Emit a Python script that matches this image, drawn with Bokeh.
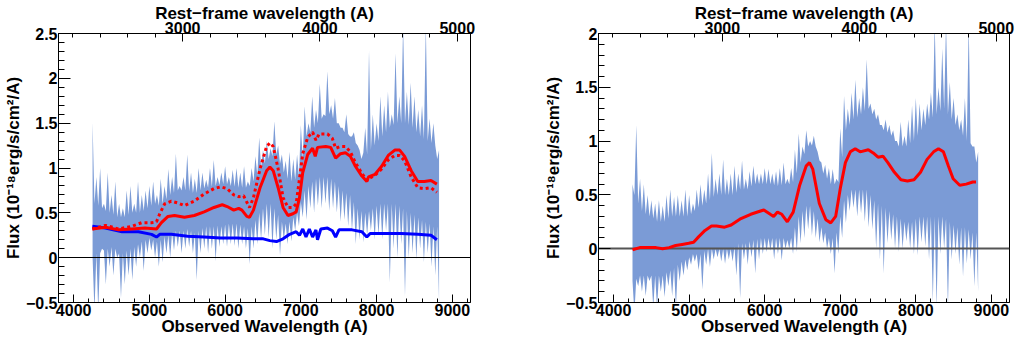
import numpy as np
from bokeh.plotting import figure
from bokeh.layouts import row
from bokeh.models import LinearAxis, Range1d, SingleIntervalTicker, CustomJSTickFormatter
from bokeh.embed import file_html
from bokeh.resources import INLINE

# ---------------- data ----------------
REDSHIFT_FACTOR = 1.813  # observed / rest-frame

# observed-wavelength grid of the noisy spectrum (Angstrom)
spec_wave = list(range(4250, 8801, 50))

# left panel: spike tops / spike bottoms of the noisy spectrum
left_hi = [1.51, 0.90, 1.00, 0.60, 0.95, 0.70, 0.85, 0.60, 0.55, 0.75,
           0.80, 0.60, 0.85, 0.70, 0.75, 0.80, 0.85, 0.70, 0.88, 0.80,
           0.99, 0.90, 1.16, 0.80, 0.90, 1.15, 0.95, 0.88, 1.00, 0.95,
           0.87, 1.00, 1.09, 0.90, 0.95, 1.02, 0.90, 0.98, 1.00, 0.95,
           1.02, 0.85, 1.00, 1.13, 1.34, 1.20, 1.30, 1.22, 1.52, 1.25,
           1.15, 1.08, 1.18, 1.10, 1.15, 1.48, 1.69, 1.50, 1.80, 1.65,
           1.94, 1.60, 2.08, 1.70, 1.78, 1.50, 1.45, 1.60, 1.35, 1.40,
           1.25, 1.10, 1.45, 2.31, 1.60, 1.50, 1.80, 1.70, 1.85, 1.60,
           2.28, 1.80, 2.60, 1.85, 1.95, 1.80, 1.65, 1.70, 2.60, 1.55,
           1.50, 1.10]
left_lo = [-0.60, -0.60, 0.10, -0.30, -0.10, -0.20, 0.00, -0.45, -0.30, -0.20,
           -0.25, -0.10, 0.00, -0.15, 0.05, 0.08, 0.00, -0.10, -0.05, 0.05,
           0.00, 0.08, 0.12, 0.05, 0.10, 0.12, 0.05, -0.25, 0.05, 0.10,
           0.05, 0.10, -0.04, 0.12, 0.15, 0.12, 0.15, 0.13, 0.10, 0.15,
           0.10, -0.07, 0.10, 0.15, 0.20, 0.25, 0.22, 0.10, 0.20, 0.02,
           0.20, 0.15, 0.18, 0.30, 0.35, 0.45, 0.42, 0.55, 0.50, 0.58,
           0.55, 0.60, 0.52, 0.55, 0.50, 0.40, 0.42, 0.35, 0.30, 0.15,
           0.20, 0.17, 0.25, 0.30, 0.20, 0.25, 0.20, 0.30, -0.28, 0.10,
           0.00, 0.15, -0.43, 0.00, 0.05, -0.02, 0.10, -0.05, 0.05, -0.10,
           -0.20, -0.50]
# left panel: dense core of the spectrum
left_core_lo = [0.00, 0.05, 0.05, 0.08, 0.10, 0.12, 0.10, 0.05, 0.05, 0.08,
                0.10, 0.12, 0.15, 0.18, 0.20, 0.22, 0.20, 0.18, 0.20, 0.24,
                0.25, 0.28, 0.30, 0.30, 0.30, 0.32, 0.30, 0.28, 0.30, 0.33,
                0.35, 0.35, 0.35, 0.36, 0.35, 0.37, 0.38, 0.38, 0.38, 0.37,
                0.35, 0.33, 0.35, 0.42, 0.50, 0.55, 0.60, 0.60, 0.55, 0.48,
                0.40, 0.38, 0.40, 0.45, 0.50, 0.62, 0.75, 0.80, 0.85, 0.88,
                0.90, 0.90, 0.90, 0.88, 0.85, 0.80, 0.75, 0.72, 0.70, 0.62,
                0.55, 0.52, 0.50, 0.52, 0.55, 0.58, 0.60, 0.60, 0.60, 0.60,
                0.60, 0.58, 0.55, 0.52, 0.50, 0.48, 0.45, 0.42, 0.40, 0.38,
                0.35, 0.35]
left_core_hi = [0.60, 0.58, 0.55, 0.52, 0.50, 0.48, 0.45, 0.45, 0.45, 0.48,
                0.50, 0.50, 0.50, 0.52, 0.55, 0.58, 0.60, 0.58, 0.60, 0.65,
                0.70, 0.72, 0.75, 0.75, 0.75, 0.74, 0.72, 0.72, 0.75, 0.77,
                0.78, 0.79, 0.80, 0.81, 0.82, 0.82, 0.80, 0.79, 0.78, 0.78,
                0.78, 0.80, 0.85, 0.92, 1.00, 1.05, 1.10, 1.13, 1.15, 1.05,
                0.95, 0.88, 0.85, 0.87, 0.90, 1.10, 1.35, 1.40, 1.45, 1.50,
                1.55, 1.58, 1.60, 1.55, 1.50, 1.45, 1.40, 1.38, 1.35, 1.28,
                1.20, 1.17, 1.15, 1.20, 1.25, 1.30, 1.35, 1.40, 1.45, 1.48,
                1.50, 1.50, 1.50, 1.48, 1.45, 1.40, 1.35, 1.32, 1.30, 1.28,
                1.25, 1.20]

# right panel: spike tops / spike bottoms of the noisy spectrum
right_hi = [0.60, 1.15, 0.65, 0.60, 0.50, 0.45, 0.42, 0.45, 0.40, 0.50,
            0.55, 0.48, 0.50, 0.45, 0.55, 0.50, 0.42, 0.55, 0.60, 0.55,
            0.70, 0.89, 0.65, 0.70, 0.83, 0.65, 0.70, 0.77, 0.70, 0.82,
            0.65, 0.72, 0.77, 0.70, 0.70, 0.75, 0.74, 0.70, 0.72, 0.75,
            0.80, 0.65, 0.75, 0.92, 1.07, 0.95, 1.10, 1.00, 1.05, 0.90,
            0.80, 0.78, 0.75, 0.74, 0.65, 1.12, 1.42, 1.30, 1.45, 1.57,
            1.40, 1.50, 1.76, 1.35, 1.30, 1.25, 1.15, 1.20, 1.15, 1.10,
            1.00, 1.18, 1.05, 1.20, 1.33, 1.40, 1.35, 1.30, 1.35, 1.45,
            2.10, 1.50, 1.86, 2.10, 1.55, 1.40, 1.25, 1.20, 1.40, 2.10,
            0.95, 0.80]
right_lo = [-0.60, -0.35, -0.40, -0.44, -0.30, -0.55, -0.55, -0.40, -0.45, -0.35,
            -0.44, -0.55, -0.30, -0.25, -0.20, -0.15, -0.12, -0.20, -0.38, -0.15,
            -0.17, -0.10, -0.08, -0.12, -0.14, -0.10, -0.12, -0.25, -0.46, -0.10,
            -0.15, -0.08, -0.23, -0.10, -0.05, -0.03, -0.02, -0.10, -0.05, -0.11,
            0.00, 0.00, -0.05, -0.03, 0.05, 0.10, 0.18, 0.12, 0.10, 0.06,
            0.05, 0.00, -0.05, -0.23, -0.05, 0.10, 0.24, 0.35, 0.38, 0.30,
            0.33, 0.25, 0.20, 0.18, 0.00, -0.10, -0.23, 0.05, 0.08, 0.00,
            -0.03, 0.00, 0.07, 0.00, -0.05, -0.06, 0.06, 0.02, -0.10, -0.50,
            -0.55, -0.05, 0.00, -0.55, -0.10, -0.05, -0.15, -0.26, -0.14, -0.10,
            -0.35, -0.40]
# right panel: dense core of the spectrum
right_core_lo = [-0.30, -0.28, -0.25, -0.25, -0.25, -0.25, -0.25, -0.25, -0.25, -0.22,
                 -0.20, -0.18, -0.15, -0.12, -0.10, -0.08, -0.05, -0.05, -0.05, -0.02,
                 0.00, 0.00, 0.00, 0.00, 0.00, 0.00, 0.00, 0.02, 0.05, 0.05,
                 0.05, 0.07, 0.08, 0.09, 0.10, 0.10, 0.10, 0.10, 0.10, 0.10,
                 0.10, 0.08, 0.10, 0.20, 0.30, 0.35, 0.40, 0.40, 0.35, 0.28,
                 0.20, 0.15, 0.10, 0.10, 0.15, 0.30, 0.45, 0.50, 0.55, 0.55,
                 0.55, 0.55, 0.55, 0.50, 0.45, 0.42, 0.40, 0.38, 0.35, 0.32,
                 0.30, 0.28, 0.25, 0.25, 0.25, 0.28, 0.30, 0.30, 0.30, 0.30,
                 0.30, 0.30, 0.30, 0.28, 0.25, 0.22, 0.20, 0.20, 0.20, 0.18,
                 0.15, 0.15]
right_core_hi = [0.50, 0.42, 0.35, 0.32, 0.30, 0.28, 0.25, 0.25, 0.25, 0.28,
                 0.30, 0.30, 0.30, 0.30, 0.30, 0.32, 0.35, 0.38, 0.40, 0.42,
                 0.45, 0.48, 0.50, 0.50, 0.50, 0.50, 0.50, 0.52, 0.55, 0.55,
                 0.55, 0.58, 0.60, 0.60, 0.60, 0.60, 0.60, 0.59, 0.58, 0.59,
                 0.60, 0.60, 0.62, 0.70, 0.80, 0.88, 0.95, 0.96, 0.95, 0.82,
                 0.70, 0.65, 0.60, 0.60, 0.62, 0.85, 1.10, 1.15, 1.20, 1.22,
                 1.25, 1.28, 1.30, 1.25, 1.20, 1.15, 1.10, 1.08, 1.05, 1.00,
                 0.95, 0.95, 0.95, 0.98, 1.00, 1.05, 1.10, 1.15, 1.20, 1.22,
                 1.25, 1.28, 1.30, 1.25, 1.20, 1.15, 1.10, 1.05, 1.00, 0.98,
                 0.95, 0.90]

# left panel: best-fit model (solid red)
left_model_wave = [4247, 4421, 4595, 4768, 4942, 5094, 5159, 5246, 5332, 5463,
                   5593, 5723, 5853, 5962, 6027, 6114, 6179, 6222, 6287, 6322,
                   6374, 6461, 6548, 6591, 6635, 6700, 6765, 6830, 6895, 6938,
                   6982, 7025, 7090, 7155, 7190, 7220, 7329, 7394, 7459, 7524,
                   7589, 7654, 7720, 7806, 7871, 7893, 7980, 8067, 8154, 8240,
                   8305, 8370, 8457, 8544, 8631, 8718, 8796]
left_model_flux = [0.32, 0.34, 0.31, 0.32, 0.33, 0.32, 0.39, 0.46, 0.47, 0.45,
                   0.47, 0.51, 0.56, 0.59, 0.57, 0.53, 0.55, 0.53, 0.46, 0.45,
                   0.53, 0.78, 0.97, 1.01, 0.97, 0.78, 0.56, 0.47, 0.49, 0.51,
                   0.67, 0.95, 1.15, 1.22, 1.13, 1.23, 1.24, 1.23, 1.11, 1.16,
                   1.17, 1.13, 1.02, 0.91, 0.85, 0.90, 0.93, 1.02, 1.14, 1.20,
                   1.20, 1.13, 0.97, 0.85, 0.85, 0.86, 0.82]

# left panel: alternative model (dotted red)
left_alt_wave = [4247, 4421, 4595, 4768, 4898, 5029, 5094, 5137, 5202, 5289,
                 5376, 5463, 5593, 5723, 5853, 5940, 6027, 6114, 6179, 6244,
                 6322, 6374, 6461, 6548, 6591, 6635, 6700, 6765, 6830, 6895,
                 6938, 6982, 7025, 7090, 7155, 7199, 7242, 7351, 7416, 7459,
                 7524, 7589, 7654, 7720, 7806, 7871, 7893, 7980, 8067, 8154,
                 8240, 8305, 8370, 8457, 8544, 8631, 8718, 8796]
left_alt_flux = [0.32, 0.36, 0.32, 0.35, 0.39, 0.39, 0.40, 0.49, 0.60, 0.63,
                 0.61, 0.58, 0.63, 0.71, 0.77, 0.79, 0.77, 0.70, 0.68, 0.69,
                 0.56, 0.67, 0.99, 1.24, 1.28, 1.24, 0.99, 0.67, 0.56, 0.56,
                 0.60, 0.88, 1.16, 1.34, 1.40, 1.31, 1.38, 1.38, 1.33, 1.22,
                 1.24, 1.24, 1.18, 1.06, 0.94, 0.86, 0.88, 0.92, 0.99, 1.09,
                 1.14, 1.14, 1.08, 0.90, 0.78, 0.77, 0.78, 0.73]

# left panel: error spectrum (blue)
left_err_wave = [4247, 4421, 4638, 4855, 5029, 5094, 5137, 5289, 5506, 5723,
                 5940, 6157, 6374, 6504, 6591, 6678, 6765, 6852, 6938, 6982,
                 7025, 7068, 7112, 7155, 7199, 7220, 7264, 7351, 7416, 7459,
                 7503, 7676, 7806, 7871, 7915, 8110, 8327, 8544, 8718, 8796]
left_err_flux = [0.35, 0.33, 0.29, 0.29, 0.26, 0.23, 0.26, 0.26, 0.24, 0.23,
                 0.22, 0.22, 0.21, 0.21, 0.19, 0.18, 0.21, 0.26, 0.29, 0.25,
                 0.32, 0.23, 0.32, 0.23, 0.31, 0.20, 0.32, 0.33, 0.30, 0.23,
                 0.31, 0.31, 0.29, 0.23, 0.27, 0.27, 0.27, 0.26, 0.25, 0.20]

# right panel: model (solid red)
right_model_wave = [4251, 4346, 4432, 4562, 4648, 4735, 4821, 4908, 4994, 5059,
                    5124, 5210, 5296, 5361, 5469, 5556, 5685, 5815, 5945, 5988,
                    6074, 6118, 6169, 6226, 6299, 6377, 6463, 6550, 6593, 6636,
                    6723, 6809, 6874, 6939, 7003, 7068, 7133, 7198, 7263, 7371,
                    7436, 7500, 7565, 7630, 7717, 7803, 7889, 7976, 8062, 8149,
                    8235, 8300, 8365, 8430, 8494, 8581, 8667, 8754, 8797]
right_model_flux = [-0.01, 0.01, 0.01, 0.01, 0.00, 0.01, 0.03, 0.04, 0.05, 0.06,
                    0.11, 0.17, 0.21, 0.21, 0.20, 0.22, 0.28, 0.32, 0.35, 0.36,
                    0.32, 0.30, 0.34, 0.32, 0.25, 0.34, 0.59, 0.77, 0.80, 0.74,
                    0.42, 0.27, 0.24, 0.30, 0.57, 0.80, 0.90, 0.93, 0.90, 0.92,
                    0.89, 0.85, 0.86, 0.80, 0.71, 0.64, 0.63, 0.64, 0.71, 0.83,
                    0.90, 0.93, 0.90, 0.77, 0.65, 0.59, 0.60, 0.62, 0.62]

X_START, X_END = 3800, 9240
LEFT_YMAX, RIGHT_YMAX = 2.5, 2.0

FONT = "Liberation Sans"
SPEC_COLOR = "#7b9bd6"
XLABEL = "Observed Wavelength (A)"
TOPLABEL = "Rest\u2212frame wavelength (A)"
YLABEL = "Flux (10\u207b\u00b9\u2078erg/s/cm\u00b2/A)"


def style_axis(ax, tick_in, minor_in, label_standoff=0, tick_standoff=1):
    ax.axis_label_text_font = FONT
    ax.axis_label_text_font_size = "17px"
    ax.axis_label_text_font_style = "bold"
    ax.axis_label_text_color = "black"
    ax.major_label_text_font = FONT
    ax.major_label_text_font_size = "16px"
    ax.major_label_text_font_style = "bold"
    ax.major_label_text_color = "black"
    ax.major_tick_in = tick_in
    ax.major_tick_out = 0
    ax.minor_tick_in = minor_in
    ax.minor_tick_out = 0
    ax.major_tick_line_color = "black"
    ax.minor_tick_line_color = "black"
    ax.axis_line_color = "black"
    ax.major_label_standoff = tick_standoff
    ax.axis_label_standoff = label_standoff


def make_panel(width, ymax, hi, lo, core_lo, core_hi, min_left, min_right):
    p = figure(width=width, height=338, x_range=Range1d(X_START, X_END),
               y_range=Range1d(-0.5, ymax), output_backend="svg",
               toolbar_location=None, min_border_left=min_left,
               min_border_right=min_right, min_border_top=0, min_border_bottom=0)
    p.xgrid.visible = False
    p.ygrid.visible = False
    p.outline_line_color = "black"
    p.outline_line_width = 1
    p.background_fill_color = "white"
    p.border_fill_color = "white"

    # bottom axis
    xa = p.xaxis[0]
    xa.ticker = SingleIntervalTicker(interval=1000, num_minor_ticks=5)
    xa.axis_label = XLABEL
    style_axis(xa, 8, 4, label_standoff=-2, tick_standoff=1)

    # left axis
    ya = p.yaxis[0]
    ya.ticker = SingleIntervalTicker(interval=0.5, num_minor_ticks=5)
    ya.formatter = CustomJSTickFormatter(
        code="return (Math.round(tick*10)/10).toString().replace('-', '\u2212');")
    ya.axis_label = YLABEL
    style_axis(ya, 12, 6)

    # top axis: rest-frame wavelength
    p.extra_x_ranges = {"rest": Range1d(X_START / REDSHIFT_FACTOR, X_END / REDSHIFT_FACTOR)}
    ta = LinearAxis(x_range_name="rest", axis_label=TOPLABEL,
                    ticker=SingleIntervalTicker(interval=1000, num_minor_ticks=5))
    style_axis(ta, 8, 4, label_standoff=-4, tick_standoff=0)
    p.add_layout(ta, "above")

    # noisy spectrum: dense core whose edges alternate with the spike
    # tops (upper edge) and spike bottoms (lower edge)
    w = np.asarray(spec_wave, dtype=float)
    xs = np.column_stack([w, w + 25]).ravel()
    upper = np.column_stack([hi, core_hi]).ravel()
    lower = np.column_stack([core_lo, lo]).ravel()
    p.varea(x=xs, y1=lower, y2=upper, fill_color=SPEC_COLOR, fill_alpha=1.0)
    return p


left = make_panel(540, LEFT_YMAX, left_hi, left_lo, left_core_lo, left_core_hi, 0, 70)
left.hspan(y=[0.0], line_color="black", line_width=1)
left.line(left_err_wave, left_err_flux, line_color="#0000ff", line_width=3)
left.line(left_alt_wave, left_alt_flux, line_color="#ff0000", line_width=3, line_dash="3 3")
left.line(left_model_wave, left_model_flux, line_color="#ff0000", line_width=3)

right = make_panel(475, RIGHT_YMAX, right_hi, right_lo, right_core_lo, right_core_hi, 0, 6)
right.hspan(y=[0.0], line_color="#555555", line_width=2)
right.line(right_model_wave, right_model_flux, line_color="#ff0000", line_width=3)

layout = row(left, right)
open("out.html", "w").write(file_html(layout, INLINE))
